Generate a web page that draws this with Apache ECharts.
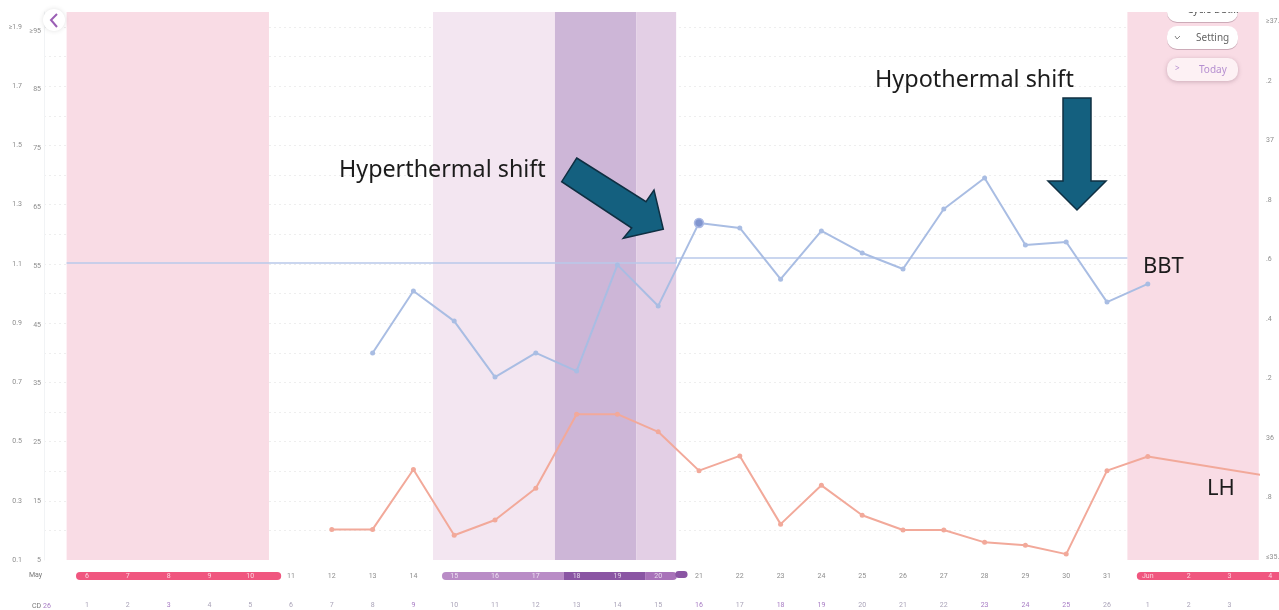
<!DOCTYPE html>
<html>
<head>
<meta charset="utf-8">
<title>Cycle chart</title>
<script src="https://cdn.jsdelivr.net/npm/echarts@6/dist/echarts.min.js"></script>
<style>
html, body { margin: 0; padding: 0; background: #fff; }
#chart { width: 1279px; height: 610px; overflow: hidden; }
</style>
</head>
<body>
<div id="chart"></div>
<script>
// x labels, one per day
const monthLabels = ['6','7','8','9','10','11','12','13','14','15','16','17','18','19','20','21','22','23','24','25','26','27','28','29','30','31','Jun','2','3','4']
const cycleLabels = ['1','2','3','4','5','6','7','8','9','10','11','12','13','14','15','16','17','18','19','20','21','22','23','24','25','26','1','2','3','']
const cycleAccent = [2, 8, 15, 17, 18, 22, 23, 24]

// y axis ticks
const gridTicks = [0.2,0.3,0.4,0.5,0.6,0.7,0.8,0.9,1.0,1.1,1.2,1.3,1.4,1.5,1.6,1.7,1.8,1.9]
const outerTicks = [0.1,0.3,0.5,0.7,0.9,1.1,1.3,1.5,1.7,1.9]
const outerLabels = ['0.1','0.3','0.5','0.7','0.9','1.1','1.3','1.5','1.7','≥1.9']
const lhTicks = [5,15,25,35,45,55,65,75,85,95]
const lhLabels = ['5','15','25','35','45','55','65','75','85','≥95']
const bbtTicks = [35.6,35.8,36,36.2,36.4,36.6,36.8,37,37.2,37.4]
const bbtLabels = ['≤35.6','.8','36','.2','.4','.6','.8','37','.2','≥37.4']

// series, null where nothing was logged
const bbtValues = [null,null,null,null,null,null,null,36.286,36.494,36.393,36.205,36.286,36.225,36.582,36.444,36.723,36.706,36.534,36.696,36.622,36.568,36.770,36.874,36.649,36.659,36.457,36.518]
const lhValues = [null,null,null,null,null,null,10.2,10.2,20.4,9.2,11.8,17.2,29.8,29.8,26.8,20.2,22.7,11.1,17.7,12.6,10.1,10.1,8.0,7.5,6.0,20.2,22.6,null,null,19.2]
const coverX = [-0.5, 14.44, 14.44, 25.5]
const coverY = [36.588, 36.588, 36.605, 36.605]

// shaded phases and the pills under them, in day index units
const bandStart = [-0.5, 8.48, 11.47, 13.46, 25.5]
const bandEnd = [4.46, 11.47, 13.46, 14.44, 28.72]
const bandColor = ['#f9dce5', '#f3e6f1', '#cdb6d7', '#e3cfe5', '#f9dce5']
const pillStart = [-0.27, 8.7, 11.69, 13.68, 14.42, 25.73]
const pillEnd = [4.76, 11.69, 13.68, 14.46, 14.72, 29.6]
const pillLow = [0, 0, 0, 0, 0.25, 0]
const pillHigh = [1, 1, 1, 1, 1.12, 1]
const pillColor = ['#f0567f', '#b98cc6', '#8a55a3', '#a872b9', '#8a55a3', '#f0567f']
const pillRadius = [4, [4,0,0,4], 0, [0,4,4,0], 4, [4,0,0,4]]
const onPill = ['6','7','8','9','10','15','16','17','18','19','20','Jun','2','3','4']

const dayPx = 40.8
const xMin = (44 - 87) / dayPx
const xMax = (1259 - 87) / dayPx
const annotationFont = '"Noto Sans", sans-serif'

const toPairs = (vals) => vals.map((v, i) => [i, v])

const text = (x, y, str, size, color, extra, z) => ({
    type: 'text', x, y, z: z || 20,
    style: Object.assign({ text: str, fontSize: size, fill: color, fontFamily: annotationFont, verticalAlign: 'middle' }, extra || {})
})

const pillBtn = (top, h, fill, shadow) => ({
    type: 'rect', z: 17,
    shape: { x: 1167, y: top, width: 71, height: h, r: 10 },
    style: { fill, shadowBlur: shadow ? 4 : 0, shadowColor: 'rgba(120,80,100,0.35)', shadowOffsetY: 1 }
})

const chart = echarts.init(document.getElementById('chart'))

chart.setOption({
    animation: false,
    backgroundColor: '#fff',
    grid: [
        { left: 44, top: 12, width: 1215, height: 548, containLabel: false, outerBoundsMode: 'none' },
        { left: 66.6, top: 572, width: 1224, height: 8, containLabel: false, outerBoundsMode: 'none' }
    ],
    xAxis: [
        { type: 'value', gridIndex: 0, min: xMin, max: xMax, show: false, splitLine: { show: false } },
        {
            type: 'category', gridIndex: 1, data: monthLabels, position: 'bottom', z: 6,
            axisLine: { show: false }, axisTick: { show: false },
            axisLabel: {
                inside: true, margin: 0, interval: 0, fontSize: 7, hideOverlap: false, fontFamily: 'Roboto',
                color: (v) => onPill.includes(v) ? 'rgba(255,255,255,0.75)' : '#8d8d8d'
            }
        },
        {
            type: 'category', gridIndex: 1, data: cycleLabels, position: 'bottom', offset: 22, z: 6,
            axisLine: { show: false }, axisTick: { show: false },
            axisLabel: {
                margin: 0, interval: 0, fontSize: 7, hideOverlap: false, fontFamily: 'Roboto',
                color: (v, i) => cycleAccent.includes(i) ? '#a77cc4' : '#a9a3b8'
            }
        },
        { type: 'value', gridIndex: 1, min: -0.5, max: 29.5, show: false, splitLine: { show: false } }
    ],
    yAxis: [
        {
            type: 'value', gridIndex: 0, min: 0.1, max: 1.951, position: 'left', offset: 19,
            axisLine: { show: false }, axisTick: { show: false, customValues: gridTicks },
            axisLabel: {
                customValues: outerTicks, fontSize: 7, color: '#8d8d8d', margin: 3, fontFamily: 'Roboto',
                formatter: (v) => outerLabels[outerTicks.findIndex(t => Math.abs(t - v) < 1e-6)]
            },
            splitLine: { show: true, lineStyle: { color: '#eeeeee', type: [2, 3], width: 1 } }
        },
        {
            type: 'value', gridIndex: 0, min: 5, max: 98.2, position: 'left',
            axisLine: { show: true, lineStyle: { color: '#f1f3f5' } }, axisTick: { show: false },
            axisLabel: {
                customValues: lhTicks, fontSize: 7, color: '#8d8d8d', margin: 3, fontFamily: 'Roboto',
                formatter: (v) => lhLabels[lhTicks.indexOf(v)]
            },
            splitLine: { show: false }
        },
        {
            type: 'value', gridIndex: 0, min: 35.59, max: 37.432, position: 'right',
            axisLine: { show: false }, axisTick: { show: false },
            axisLabel: {
                customValues: bbtTicks, fontSize: 7, color: '#8d8d8d', margin: 7, fontFamily: 'Roboto',
                formatter: (v) => bbtLabels[bbtTicks.findIndex(t => Math.abs(t - v) < 1e-6)]
            },
            splitLine: { show: false }
        },
        { type: 'value', gridIndex: 1, min: 0, max: 1, show: false, splitLine: { show: false } }
    ],
    series: [
        {
            name: 'Phases', type: 'custom', xAxisIndex: 0, yAxisIndex: 0, z: 1,
            data: bandStart.map((s, i) => [s, bandEnd[i], i]),
            renderItem: (params, api) => {
                const a = api.coord([api.value(0), 1.951])
                const b = api.coord([api.value(1), 0.1])
                return {
                    type: 'rect',
                    shape: { x: a[0], y: a[1], width: b[0] - a[0], height: b[1] - a[1] },
                    style: { fill: bandColor[api.value(2)] }
                }
            }
        },
        {
            name: 'Pills', type: 'custom', xAxisIndex: 3, yAxisIndex: 3, z: 1, clip: false,
            data: pillStart.map((s, i) => [s, pillEnd[i], pillLow[i], pillHigh[i], i]),
            renderItem: (params, api) => {
                const a = api.coord([api.value(0), api.value(3)])
                const b = api.coord([api.value(1), api.value(2)])
                const i = api.value(4)
                return {
                    type: 'rect',
                    shape: { x: a[0], y: a[1], width: b[0] - a[0], height: b[1] - a[1], r: pillRadius[i] },
                    style: { fill: pillColor[i] }
                }
            }
        },
        {
            name: 'Coverline', type: 'line', xAxisIndex: 0, yAxisIndex: 2, z: 3,
            data: coverX.map((x, i) => [x, coverY[i]]),
            symbol: 'none', lineStyle: { color: '#b9c9ea', width: 1.5 }
        },
        {
            name: 'BBT', type: 'line', xAxisIndex: 0, yAxisIndex: 2, z: 4,
            data: toPairs(bbtValues).map(p => p[0] === 15
                ? { value: p, symbolSize: 9, itemStyle: { color: '#8095cf', borderColor: '#aab9e4', borderWidth: 1.5 } }
                : { value: p }),
            symbol: 'circle', symbolSize: 5,
            itemStyle: { color: '#a9bde3' }, lineStyle: { color: '#a9bde3', width: 2 }
        },
        {
            name: 'LH', type: 'line', xAxisIndex: 0, yAxisIndex: 1, z: 4,
            data: toPairs(lhValues), connectNulls: true,
            symbol: (v) => v[0] === 29 ? 'none' : 'circle', symbolSize: 5,
            itemStyle: { color: '#f2a99a' }, lineStyle: { color: '#f2a99a', width: 2 }
        }
    ],
    graphic: [
        // back button
        { type: 'circle', z: 18, shape: { cx: 54, cy: 20, r: 11 }, style: { fill: '#fff', shadowBlur: 5, shadowColor: 'rgba(0,0,0,0.12)' } },
        { type: 'polyline', z: 19, shape: { points: [[57, 14], [51, 20], [57, 27]] }, style: { stroke: '#9b5fb5', lineWidth: 2, fill: null } },
        // floating buttons
        pillBtn(2, 20, '#fff'),
        text(1187, 10, 'Cycle Dat...', 10, '#555', null, 18),
        pillBtn(26, 23, '#fff'),
        text(1196, 38, 'Setting', 10, '#666'),
        { type: 'polyline', z: 19, shape: { points: [[1175, 36], [1177, 39], [1180, 36]] }, style: { stroke: '#888', lineWidth: 1, fill: null } },
        pillBtn(58, 23, '#fdf1f4', true),
        text(1199, 70, 'Today', 10, '#b58fd0'),
        text(1175, 69, '>', 8, '#b58fd0'),
        // crop of the page above the chart
        { type: 'rect', z: 19, shape: { x: 66, y: 0, width: 1213, height: 12 }, style: { fill: '#fff' } },
        // left row headers
        text(29, 575, 'May', 7, '#777', { fontFamily: 'Roboto' }),
        text(32, 606, 'CD', 7, '#777', { fontFamily: 'Roboto' }),
        text(43, 606, '26', 7, '#a77cc4', { fontFamily: 'Roboto' }),
        // annotations
        text(339, 170, 'Hyperthermal shift', 23.3, '#1c1c1c'),
        text(875, 80, 'Hypothermal shift', 23.4, '#1c1c1c'),
        text(1143, 267, 'BBT', 22, '#1c1c1c'),
        text(1207, 489, 'LH', 22, '#1c1c1c'),
        {
            type: 'polygon', z: 19,
            shape: { points: [[576.7, 158], [646, 201.7], [654, 190], [663.3, 229.3], [623.3, 238.3], [631.7, 228], [561.7, 181.7]] },
            style: { fill: '#14607f', stroke: '#0f2f42', lineWidth: 1.5 }
        },
        {
            type: 'polygon', z: 19,
            shape: { points: [[1063, 98], [1091, 98], [1091, 181], [1106, 181], [1077, 210], [1048, 181], [1063, 181]] },
            style: { fill: '#14607f', stroke: '#0f2f42', lineWidth: 1.5 }
        }
    ]
})
</script>
</body>
</html>
